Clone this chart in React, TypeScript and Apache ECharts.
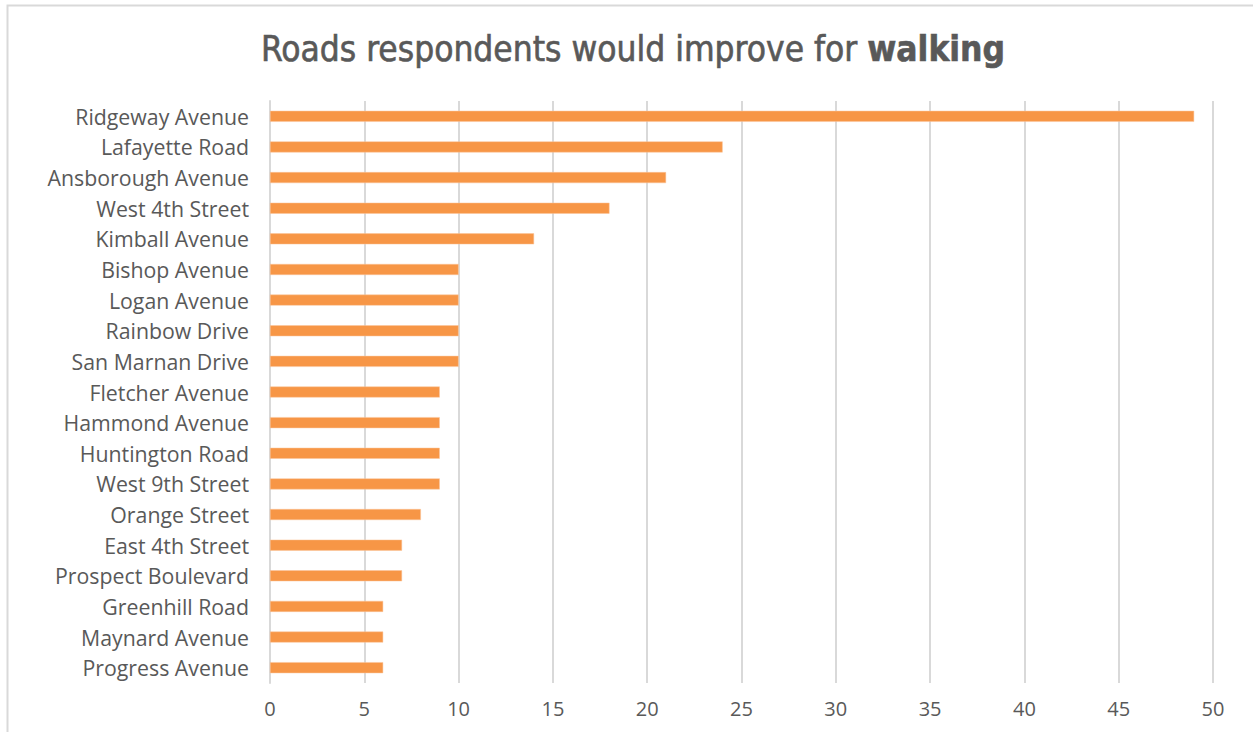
import React, { useEffect, useRef } from "react";
import * as echarts from "echarts";

const categories = [
  "Ridgeway Avenue",
  "Lafayette Road",
  "Ansborough Avenue",
  "West 4th Street",
  "Kimball Avenue",
  "Bishop Avenue",
  "Logan Avenue",
  "Rainbow Drive",
  "San Marnan Drive",
  "Fletcher Avenue",
  "Hammond Avenue",
  "Huntington Road",
  "West 9th Street",
  "Orange Street",
  "East 4th Street",
  "Prospect Boulevard",
  "Greenhill Road",
  "Maynard Avenue",
  "Progress Avenue",
];
const values = [49, 24, 21, 18, 14, 10, 10, 10, 10, 9, 9, 9, 9, 8, 7, 7, 6, 6, 6];
const titleText = "Roads respondents would improve for ";
const titleBold = "walking";

const titleFont = "DejaVu Sans Condensed, sans-serif";
const labelFont = "Open Sans, Liberation Sans, sans-serif";

export default function App() {
  const ref = useRef<HTMLDivElement>(null);
  useEffect(() => {
    document.body.style.margin = "0";
    const chart = echarts.init(ref.current!, null, { renderer: "svg" });
    chart.setOption({
      animation: false,
      backgroundColor: "#ffffff",
      title: {
        text: titleText + "{b|" + titleBold + "}",
        left: 628,
        textAlign: "center",
        top: 26,
        textStyle: {
          fontFamily: titleFont,
          fontSize: 35,
          fontWeight: "normal",
          color: "#595959",
          textBorderColor: "#595959",
          textBorderWidth: 0.6,
          rich: {
            b: {
              fontFamily: titleFont,
              fontSize: 35,
              fontWeight: "bold",
              color: "#595959",
            },
          },
        },
      },
      graphic: [
        {
          type: "rect",
          shape: { x: 7.5, y: 5.5, width: 1260, height: 760 },
          style: { fill: "none", stroke: "#d9d9d9", lineWidth: 2 },
          silent: true,
        },
      ],
      grid: { left: 270, right: 40, top: 101, bottom: 49, containLabel: false },
      xAxis: {
        type: "value",
        min: 0,
        max: 50,
        interval: 5,
        axisLine: { show: false },
        axisTick: { show: false },
        splitLine: { show: true, lineStyle: { color: "#d9d9d9", width: 2 } },
        axisLabel: {
          color: "#595959",
          fontSize: 20,
          fontFamily: labelFont,
          margin: 15,
        },
      },
      yAxis: {
        type: "category",
        data: categories,
        inverse: true,
        axisLine: { show: true, lineStyle: { color: "#d9d9d9", width: 2 } },
        axisTick: { show: false },
        axisLabel: {
          color: "#595959",
          fontSize: 21.3,
          fontFamily: labelFont,
          margin: 21,
        },
      },
      series: [
        {
          type: "bar",
          data: values,
          barWidth: 11,
          itemStyle: { color: "#F79646", borderColor: "#fbc49a", borderWidth: 0.5 },
        },
      ],
    });
    return () => chart.dispose();
  }, []);
  return (
    <div
      ref={ref}
      style={{ position: "absolute", left: 0, top: 0, width: 1253, height: 732 }}
    />
  );
}
